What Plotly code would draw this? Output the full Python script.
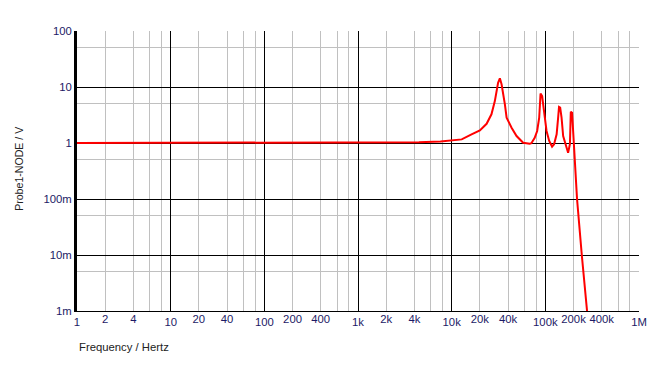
import plotly.graph_objects as go

# Frequency response data (Hz, V)
freq = [1, 4400, 4470, 7600, 10000, 12800, 16300, 20000, 23600, 26600, 28900,
        31300, 32700, 34100, 37000, 38600, 43600, 49300, 58000, 68000, 71000,
        77000, 81800, 86000, 88900, 92500, 94800, 98900, 103000, 110000, 118000,
        124000, 132000, 137000, 140000, 144000, 149000, 155000, 168000, 175000,
        183000, 187000, 193000, 198000, 203000, 218000, 245000, 275000, 290000]
mag = [1.0, 1.0, 1.03, 1.06, 1.10, 1.16, 1.43, 1.68, 2.2, 3.25, 5.6,
       11.9, 14.3, 11.2, 4.9, 2.83, 1.88, 1.33, 1.01, 0.97, 0.99,
       1.24, 1.64, 2.83, 7.6, 6.9, 4.9, 2.83, 1.64, 1.09, 0.86,
       0.95, 1.43, 2.83, 4.4, 4.27, 2.83, 1.33, 0.82, 0.67,
       0.95, 3.62, 3.48, 1.64, 0.72, 0.1, 0.01, 0.001, 0.0005]

x_major = [1, 10, 100, 1e3, 1e4, 1e5, 1e6]
x_major_text = ["1", "10", "100", "1k", "10k", "100k", "1M"]
x_minor = [m * d for d in [1, 10, 100, 1e3, 1e4, 1e5] for m in (2, 4, 6, 8)]
x_extra = [2, 4, 20, 40, 200, 400, 2e3, 4e3, 2e4, 4e4, 2e5, 4e5]
x_extra_text = ["2", "4", "20", "40", "200", "400", "2k", "4k", "20k", "40k", "200k", "400k"]

y_major = [0.001, 0.01, 0.1, 1, 10, 100]
y_major_text = ["1m", "10m", "100m", "1", "10", "100"]
y_minor = [0.005, 0.05, 0.5, 5, 50]

label_color = "#1c1a66"
font_family = "Liberation Sans, Arial, sans-serif"

fig = go.Figure()
fig.add_trace(go.Scatter(x=freq, y=mag, mode="lines",
                         line=dict(color="#ff0000", width=2),
                         showlegend=False, hoverinfo="skip"))
fig.add_trace(go.Scatter(x=freq, y=mag, mode="lines", xaxis="x2",
                         line=dict(color="rgba(0,0,0,0)", width=0),
                         showlegend=False, hoverinfo="skip"))

fig.update_layout(
    width=658, height=370,
    margin=dict(l=77, r=18.5, t=30.5, b=59),
    paper_bgcolor="white", plot_bgcolor="white",
    font=dict(family=font_family, size=11.3, color=label_color),
    xaxis=dict(type="log", range=[0, 6],
               tickmode="array", tickvals=x_major, ticktext=x_major_text,
               showgrid=True, gridcolor="black", gridwidth=1,
               minor=dict(tickmode="array", tickvals=x_minor, showgrid=True,
                          gridcolor="#c0c0c0", gridwidth=1, ticks=""),
               showline=True, linecolor="black", linewidth=1,
               ticks="", zeroline=False,
               tickfont=dict(size=11.3, color=label_color)),
    xaxis2=dict(type="log", range=[0, 6], overlaying="x", anchor="y", side="bottom",
                tickmode="array", tickvals=x_extra, ticktext=x_extra_text,
                showgrid=False, ticks="", showline=False, zeroline=False,
                tickfont=dict(size=11.3, color=label_color)),
    yaxis=dict(type="log", range=[-3, 2],
               tickmode="array", tickvals=y_major, ticktext=y_major_text,
               showgrid=True, gridcolor="black", gridwidth=1,
               minor=dict(tickmode="array", tickvals=y_minor, showgrid=True,
                          gridcolor="#c0c0c0", gridwidth=1, ticks=""),
               showline=True, linecolor="black", linewidth=3,
               ticks="", zeroline=False, ticklabelstandoff=0,
               tickfont=dict(size=11.3, color=label_color)),
    annotations=[
        dict(text="Frequency / Hertz", xref="paper", yref="paper",
             x=0, y=-0.128, xanchor="left", yanchor="middle", showarrow=False,
             font=dict(size=11.3, color="#222222", family=font_family)),
        dict(text="Probe1-NODE / V", xref="paper", yref="paper",
             x=-0.103, y=0.508, xanchor="center", yanchor="middle", showarrow=False,
             textangle=-90,
             font=dict(size=10.6, color="#222222", family=font_family)),
    ],
)

fig.write_html("out.html")
